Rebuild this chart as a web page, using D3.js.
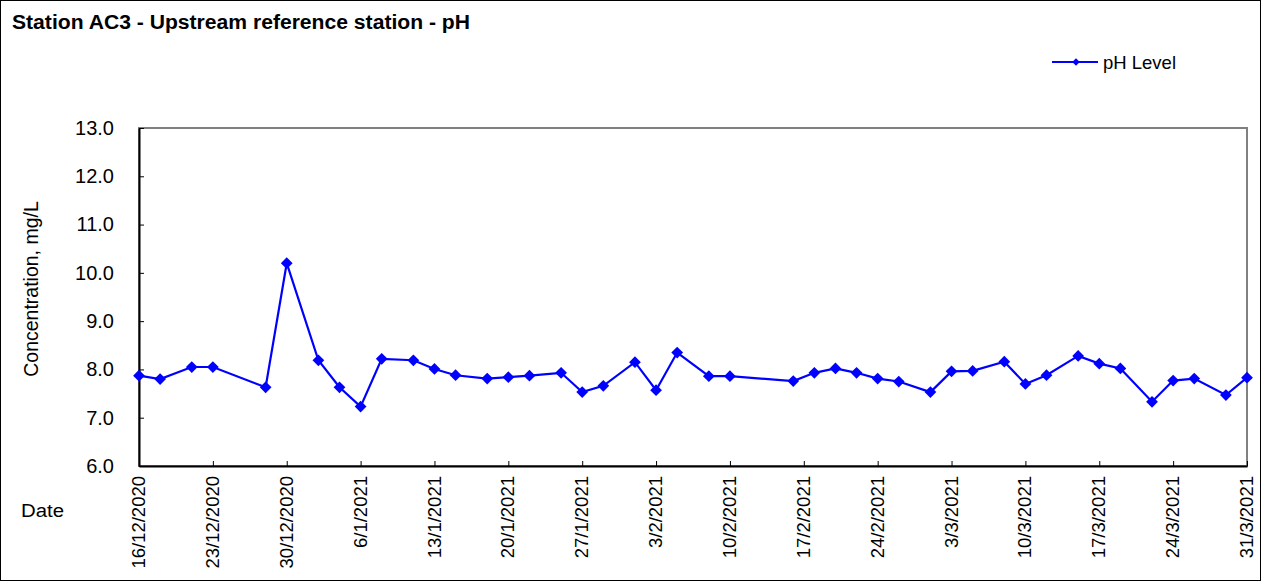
<!DOCTYPE html>
<html><head><meta charset="utf-8">
<script src="https://cdn.jsdelivr.net/npm/d3@7"></script>
<style>body{margin:0;background:#fff;} text{font-family:"Liberation Sans",Arial,sans-serif;}</style>
</head><body>
<svg id="c" width="1261" height="581"></svg>
<script>
const dates = ["2020-12-16","2020-12-18","2020-12-21","2020-12-23","2020-12-28","2020-12-30",
"2021-01-02","2021-01-04","2021-01-06","2021-01-08","2021-01-11","2021-01-13","2021-01-15","2021-01-18","2021-01-20",
"2021-01-22","2021-01-25","2021-01-27","2021-01-29","2021-02-01","2021-02-03","2021-02-05","2021-02-08","2021-02-10",
"2021-02-16","2021-02-18","2021-02-20","2021-02-22","2021-02-24","2021-02-26","2021-03-01","2021-03-03","2021-03-05",
"2021-03-08","2021-03-10","2021-03-12","2021-03-15","2021-03-17","2021-03-19","2021-03-22","2021-03-24","2021-03-26",
"2021-03-29","2021-03-31"];
const phValues = [7.87,7.80,8.05,8.05,7.63,10.20,
8.19,7.63,7.23,8.22,8.19,8.01,7.88,7.81,7.84,
7.87,7.93,7.53,7.66,8.15,7.57,8.35,7.86,7.86,
7.76,7.93,8.02,7.93,7.81,7.75,7.53,7.96,7.97,
8.16,7.70,7.88,8.28,8.12,8.02,7.33,7.77,7.81,
7.47,7.83];
const tickDates = ["2020-12-16","2020-12-23","2020-12-30","2021-01-06","2021-01-13","2021-01-20","2021-01-27",
"2021-02-03","2021-02-10","2021-02-17","2021-02-24","2021-03-03","2021-03-10","2021-03-17","2021-03-24","2021-03-31"];
const yTicks = [6,7,8,9,10,11,12,13];

const svg = d3.select("#c");
const parse = d3.utcParse("%Y-%m-%d");
const fmt = d3.utcFormat("%-d/%-m/%Y");
const L=139, R=1247, T=128, B=466;
const x = d3.scaleUtc().domain([parse("2020-12-16"), parse("2021-03-31")]).range([L,R]);
const y = d3.scaleLinear().domain([6,13]).range([B,T]);

svg.append("rect").attr("x",0.5).attr("y",0.5).attr("width",1260).attr("height",580)
  .attr("fill","#fff").attr("stroke","#000").attr("stroke-width",1);

svg.append("text").attr("x",12).attr("y",29).attr("font-size",19.5).attr("font-weight","bold")
  .attr("textLength",458).attr("lengthAdjust","spacingAndGlyphs")
  .text("Station AC3 - Upstream reference station - pH");

// plot border
svg.append("rect").attr("x",L).attr("y",T).attr("width",R-L).attr("height",B-T)
  .attr("fill","none").attr("stroke","#808080").attr("stroke-width",2);

const ya = svg.append("g").attr("transform",`translate(${L},0)`)
  .call(d3.axisLeft(y).tickValues(yTicks).tickFormat(d3.format(".1f")).tickSizeInner(-5).tickSizeOuter(0).tickPadding(25));
ya.select(".domain").attr("stroke","#000").attr("stroke-width",2);
ya.selectAll("text").attr("font-size",20).attr("fill","#000").attr("font-family","Liberation Sans, Arial, sans-serif");

const xa = svg.append("g").attr("transform",`translate(0,${B})`)
  .call(d3.axisBottom(x).tickValues(tickDates.map(parse)).tickFormat(fmt).tickSizeInner(-5).tickSizeOuter(0).tickPadding(0));
xa.select(".domain").attr("stroke","#000").attr("stroke-width",2);
xa.selectAll("text").attr("font-size",18.5).attr("fill","#000").attr("font-family","Liberation Sans, Arial, sans-serif")
  .attr("text-anchor","end").attr("dy","0.3em").attr("transform","translate(0,10) rotate(-90)").attr("x",0).attr("y",0);

svg.append("text").attr("transform","translate(38,289) rotate(-90)").attr("text-anchor","middle")
  .attr("font-size",19.5).text("Concentration, mg/L");
svg.append("text").attr("x",21).attr("y",517).attr("font-size",18)
  .attr("textLength",43).attr("lengthAdjust","spacingAndGlyphs").text("Date");

const data = dates.map((d,i)=>({d:parse(d),v:phValues[i]}));
svg.append("path").datum(data).attr("fill","none").attr("stroke","#0000ff").attr("stroke-width",2.2)
  .attr("d", d3.line().x(d=>x(d.d)).y(d=>y(d.v)));
const diamond = d3.symbol().type(d3.symbolDiamond2).size(88);
svg.selectAll(".pt").data(data).join("path").attr("class","pt")
  .attr("transform",d=>`translate(${x(d.d)},${y(d.v)})`).attr("d",diamond).attr("fill","#0000ff");

// legend
const lg = svg.append("g");
lg.append("line").attr("x1",1052).attr("x2",1098).attr("y1",62).attr("y2",62).attr("stroke","#0000ff").attr("stroke-width",2);
lg.append("path").attr("transform","translate(1076,62)").attr("d",d3.symbol().type(d3.symbolDiamond2).size(36)).attr("fill","#0000ff");
lg.append("text").attr("x",1103).attr("y",69).attr("font-size",18.5)
  .attr("textLength",73).attr("lengthAdjust","spacingAndGlyphs").text("pH Level");
</script>
</body></html>
